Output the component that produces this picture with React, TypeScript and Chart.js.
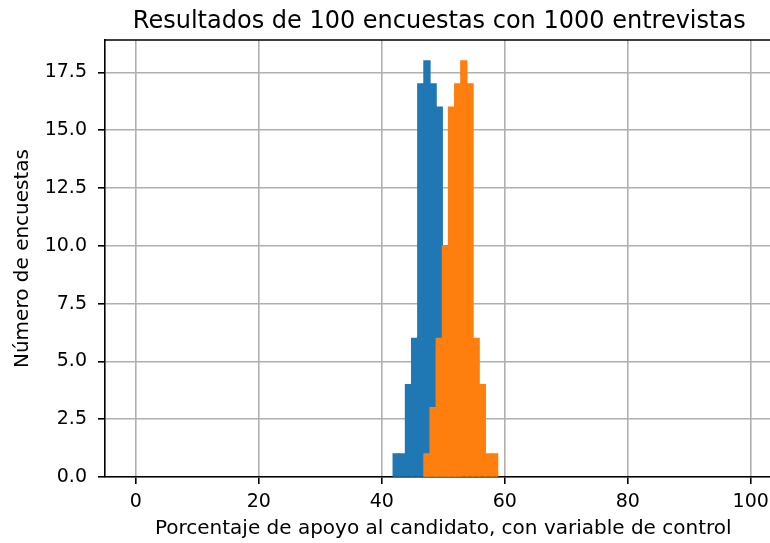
import React, { useEffect, useRef } from "react";
import { Chart, registerables } from "chart.js";

Chart.register(...registerables);

const TITLE = "Resultados de 100 encuestas con 1000 entrevistas";
const X_LABEL = "Porcentaje de apoyo al candidato, con variable de control";
const Y_LABEL = "Número de encuestas";

// histogram bin centres (bins are ~1 percentage point wide)
const BIN_CENTERS = [42.35, 43.35, 44.35, 45.35, 46.35, 47.35, 48.35, 49.35, 50.35, 51.35, 52.35, 53.35, 54.35, 55.35, 56.35, 57.35, 58.35];
// blue series (last bins are hidden under the orange series, estimated)
const BLUE_COUNTS = [1, 1, 4, 6, 17, 18, 17, 16, 10, 7, 3, 0, 0, 0, 0, 0, 0];
// orange series
const ORANGE_COUNTS = [0, 0, 0, 0, 0, 1, 3, 6, 10, 16, 17, 18, 17, 6, 4, 1, 1];

const X_TICKS = [0, 20, 40, 60, 80, 100];
const Y_TICKS = [0, 2.5, 5, 7.5, 10, 12.5, 15, 17.5];
const X_MIN = -5;
const X_MAX = 105;
const Y_MAX = 18.9;

const FONT = "'DejaVu Sans', sans-serif";

const framePlugin = {
  id: "frame",
  afterDraw(chart: any) {
    const { ctx, chartArea } = chart;
    ctx.save();
    ctx.strokeStyle = "#000";
    ctx.lineWidth = 1.6;
    ctx.beginPath();
    ctx.moveTo(chartArea.left - 0.8, chartArea.top);
    ctx.lineTo(chartArea.right + 0.8, chartArea.top);
    ctx.moveTo(chartArea.right, chartArea.top);
    ctx.lineTo(chartArea.right, chartArea.bottom);
    ctx.stroke();
    ctx.fillStyle = "#000";
    ctx.font = `24px ${FONT}`;
    ctx.textAlign = "center";
    ctx.textBaseline = "alphabetic";
    ctx.fillText(TITLE, (chartArea.left + chartArea.right) / 2 - 4, chartArea.top - 12);
    ctx.restore();
  },
};

export default function App() {
  const ref = useRef<HTMLCanvasElement>(null);
  useEffect(() => {
    if (!ref.current) return;
    const toPts = (counts: number[]) =>
      BIN_CENTERS.map((x, i) => ({ x, y: counts[i] > 0 ? counts[i] : null }));
    const chart = new Chart(ref.current, {
      type: "bar",
      data: {
        datasets: [
          {
            data: toPts(BLUE_COUNTS) as any,
            backgroundColor: "#1f77b4",
            borderWidth: 0,
            inflateAmount: 0.6,
            order: 1,
          } as any,
          {
            data: toPts(ORANGE_COUNTS) as any,
            backgroundColor: "#ff7f0e",
            borderWidth: 0,
            inflateAmount: 0.6,
            order: 0,
          } as any,
        ],
      },
      options: {
        animation: false,
        responsive: false,
        devicePixelRatio: 1,
        layout: { padding: { top: 40, right: 18.5, bottom: 0, left: 0 } },
        plugins: { legend: { display: false }, tooltip: { enabled: false }, title: { display: false } },
        datasets: { bar: { grouped: false, barPercentage: 1, categoryPercentage: 1 } } as any,
        scales: {
          x: {
            type: "linear",
            min: X_MIN,
            max: X_MAX,
            offset: false,
            z: 1,
            afterBuildTicks: (s: any) => {
              s.ticks = X_TICKS.map((v) => ({ value: v }));
            },
            afterFit: (s: any) => {
              s.height = 66;
            },
            ticks: {
              color: "#000",
              font: { family: FONT, size: 19 },
              padding: 7,
              maxRotation: 0,
              autoSkip: false,
              callback: (v: any) => String(v),
            },
            grid: { offset: false, color: "#b0b0b0", lineWidth: 1.6, tickLength: 7, tickColor: "#000", tickWidth: 1.6 } as any,
            border: { color: "#000", width: 1.6 },
            title: {
              display: true,
              text: X_LABEL,
              color: "#000",
              font: { family: FONT, size: 20 },
              padding: { top: 0, bottom: 2 },
            },
          },
          y: {
            type: "linear",
            min: 0,
            max: Y_MAX,
            z: 1,
            afterBuildTicks: (s: any) => {
              s.ticks = Y_TICKS.map((v) => ({ value: v }));
            },
            afterFit: (s: any) => {
              s.width = 105;
            },
            ticks: {
              color: "#000",
              font: { family: FONT, size: 19 },
              padding: 11,
              autoSkip: false,
              callback: (v: any) => Number(v).toFixed(1),
            },
            grid: { offset: false, color: "#b0b0b0", lineWidth: 1.6, tickLength: 7, tickColor: "#000", tickWidth: 1.6 } as any,
            border: { color: "#000", width: 1.6 },
            title: {
              display: true,
              text: Y_LABEL,
              color: "#000",
              font: { family: FONT, size: 20 },
              padding: { top: 11, bottom: 0 },
            },
          },
        },
      },
      plugins: [framePlugin],
    });
    return () => chart.destroy();
  }, []);
  return (
    <div style={{ position: "absolute", left: 0, top: 0, width: 770, height: 543, overflow: "hidden", background: "#fff" }}>
      <canvas ref={ref} width={800} height={543} style={{ display: "block", width: 800, height: 543 }} />
    </div>
  );
}
